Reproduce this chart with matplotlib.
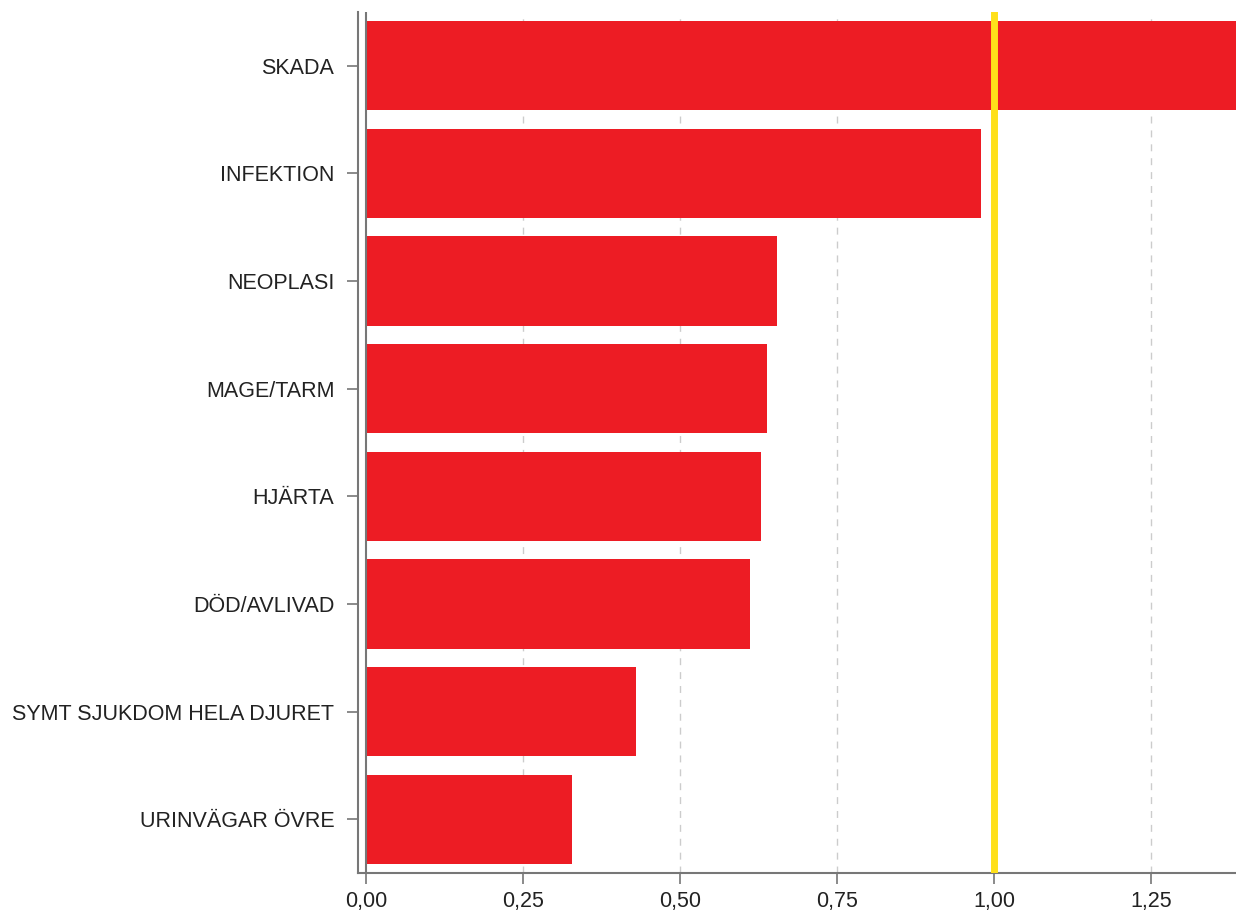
import matplotlib
matplotlib.use("Agg")
import matplotlib.pyplot as plt
from matplotlib.ticker import FuncFormatter

categories = ["SKADA", "INFEKTION", "NEOPLASI", "MAGE/TARM", "HJÄRTA",
              "DÖD/AVLIVAD", "SYMT SJUKDOM HELA DJURET", "URINVÄGAR ÖVRE"]
values = [1.50, 0.979, 0.654, 0.638, 0.629, 0.611, 0.429, 0.327]
ref_value = 1.0
xticks = [0.0, 0.25, 0.5, 0.75, 1.0, 1.25]

plt.rcParams['font.family'] = ['Liberation Sans', 'DejaVu Sans']

fig = plt.figure(figsize=(12.36, 9.16), dpi=100)
ax = fig.add_axes([358/1236, 1 - 873/916, (1236 - 358)/1236, (873 - 12)/916])

ypos = list(range(len(categories)))
ax.barh(ypos, values, height=0.83, color="#ED1C24", zorder=3)
ax.set_ylim(len(categories) - 0.5, -0.5)
ax.set_xlim(-0.0135, 1.385)

for t in xticks[1:]:
    ax.axvline(t, color="#cccccc", lw=1, ls=(0, (5, 5)), zorder=1)
ax.axvline(0, color="#777777", lw=1.5, zorder=4)
ax.axvline(ref_value, color="#FFE01A", lw=5, zorder=5)

ax.set_yticks(ypos)
ax.set_yticklabels(categories)
ax.set_xticks(xticks)
ax.xaxis.set_major_formatter(FuncFormatter(lambda v, p: f"{v:.2f}".replace(".", ",")))

for s in ["top", "right"]:
    ax.spines[s].set_visible(False)
for s in ["left", "bottom"]:
    ax.spines[s].set_color("#777777")
    ax.spines[s].set_linewidth(1.5)

ax.tick_params(axis="both", colors="#777777", labelcolor="#222222", labelsize=15.5,
               length=8, width=1.2)
ax.tick_params(axis="y", pad=9)
ax.tick_params(axis="x", pad=5)

fig.savefig("out.png", dpi=100)
